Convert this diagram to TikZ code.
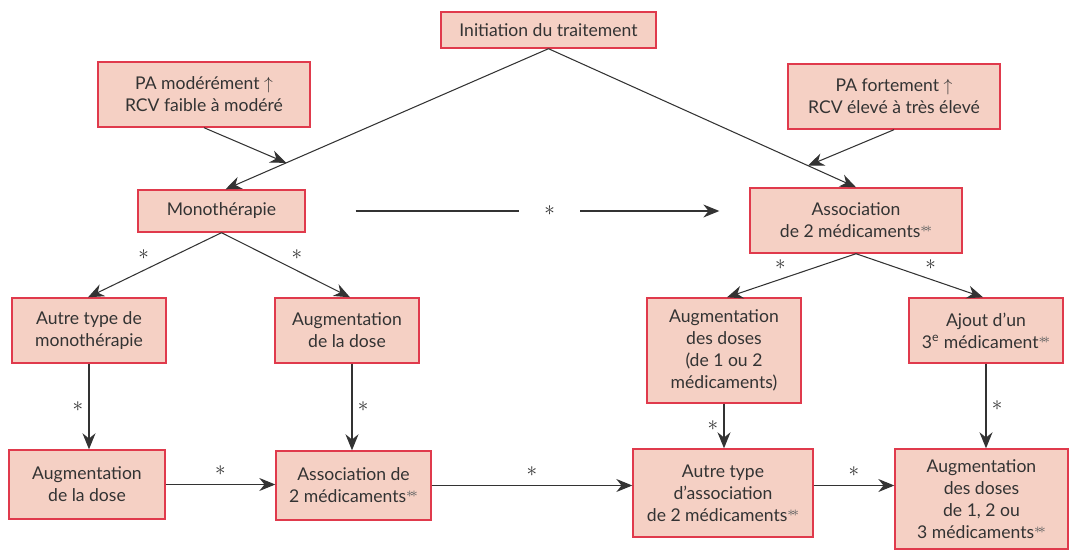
\documentclass[tikz,border=0pt]{standalone}
\usepackage{fontspec}
\setmainfont{Lato}
\usepackage{tikz}
\usetikzlibrary{arrows.meta}

\definecolor{boxfill}{HTML}{F5D0C4}
\definecolor{boxline}{HTML}{E03A4C}
\definecolor{ink}{HTML}{333333}
\newcommand{\dbl}{\raisebox{0.55ex}{\textcolor{ink!75}{\fontsize{8.5}{9}\selectfont$\ast\mkern-4mu\ast$}}}

\begin{document}
\begin{tikzpicture}[
    x=0.02cm, y=-0.02cm,
    >={Stealth[length=3.2mm, width=2.6mm]},
    box/.style={
        rectangle, draw=boxline, fill=boxfill, line width=0.8pt,
        align=center, font=\fontsize{10}{12.5}\selectfont, text=ink,
        inner sep=2pt
    },
    arr/.style={->, line width=0.6pt, draw=ink},
    star/.style={font=\fontsize{12}{14}\selectfont, text=ink, inner sep=3pt}
]
\useasboundingbox (0,0) rectangle (1072,551);
\node[box, minimum width=4.3cm, minimum height=0.72cm] (init) at (548.5,30) {Initiation du traitement};
\node[box, minimum width=4.24cm, minimum height=1.3cm] (pamod) at (204,94.5) {PA modérément $\uparrow$\\RCV faible à modéré};
\node[box, minimum width=4.24cm, minimum height=1.3cm] (pafort) at (894,96.5) {PA fortement $\uparrow$\\RCV élevé à très élevé};
\node[box, minimum width=3.34cm, minimum height=0.84cm] (mono) at (221.5,211) {Monothérapie};
\node[box, minimum width=4.24cm, minimum height=1.3cm] (assoc) at (856,220.5) {Association\\de 2 médicaments\dbl};
\node[box, minimum width=3.08cm, minimum height=1.3cm] (autremono) at (89,330.5) {Autre type de\\monothérapie};
\node[box, minimum width=2.88cm, minimum height=1.3cm] (augdose) at (347,330.5) {Augmentation\\de la dose};
\node[box, minimum width=3.08cm, minimum height=2.1cm] (augdoses) at (724,350.5) {Augmentation\\des doses\\(de 1 ou 2\\médicaments)};
\node[box, minimum width=3.08cm, minimum height=1.3cm] (ajout) at (986,330.5) {Ajout d’un\\3\textsuperscript{e} médicament\dbl};
\node[box, minimum width=3.12cm, minimum height=1.38cm] (augbas) at (87,484.5) {Augmentation\\de la dose};
\node[box, minimum width=3.1cm, minimum height=1.38cm] (assocbas) at (353.5,485.5) {Association de\\2 médicaments\dbl};
\node[box, minimum width=3.6cm, minimum height=1.76cm] (autreassoc) at (723,493) {Autre type\\d’association\\de 2 médicaments\dbl};
\node[box, minimum width=3.46cm, minimum height=2.0cm] (augfin) at (981.5,499) {Augmentation\\des doses\\de 1, 2 ou\\3 médicaments\dbl};
% top part
\draw[arr] (init.south) -- coordinate[pos=0.812] (jmono) ([xshift=0.08cm]mono.north);
\draw[arr] (init.south) -- coordinate[pos=0.844] (jassoc) (assoc.north);
\draw[arr] (pamod.south) -- (jmono);
\draw[arr] (pafort.south) -- (jassoc);
\draw[arr, shorten <=1cm, shorten >=0.6cm] (mono.east) -- node[pos=0.55, star, fill=white, inner sep=0.5cm, inner ysep=2pt] {$\ast$} (mono.east -| assoc.west);
% branches
\draw[arr] (mono.south) -- node[star, midway, above left] {$\ast$} ([xshift=-0.02cm]autremono.north);
\draw[arr] (mono.south) -- node[star, midway, above right] {$\ast$} ([xshift=0.06cm]augdose.north);
\draw[arr] (assoc.south) -- node[star, midway, above left] {$\ast$} ([xshift=0.06cm]augdoses.north);
\draw[arr] (assoc.south) -- node[star, midway, above right] {$\ast$} ([xshift=-0.06cm]ajout.north);
% verticals
\draw[arr] (autremono.south) -- node[star, midway, left] {$\ast$} (autremono.south |- augbas.north);
\draw[arr] ([xshift=0.1cm]augdose.south) -- node[star, midway, right] {$\ast$} ([xshift=0.1cm]augdose.south |- assocbas.north);
\draw[arr] (augdoses.south) -- node[star, midway, left] {$\ast$} (augdoses.south |- autreassoc.north);
\draw[arr] (ajout.south) -- node[star, midway, right] {$\ast$} (ajout.south |- augfin.north);
% bottom row
\draw[arr] (augbas.east) -- node[star, midway, above=2pt] {$\ast$} (augbas.east -| assocbas.west);
\draw[arr] (assocbas.east) -- node[star, midway, above=2pt] {$\ast$} (assocbas.east -| autreassoc.west);
\draw[arr] (autreassoc.east |- assocbas.east) -- node[star, midway, above=2pt] {$\ast$} (assocbas.east -| augfin.west);
\end{tikzpicture}
\end{document}
